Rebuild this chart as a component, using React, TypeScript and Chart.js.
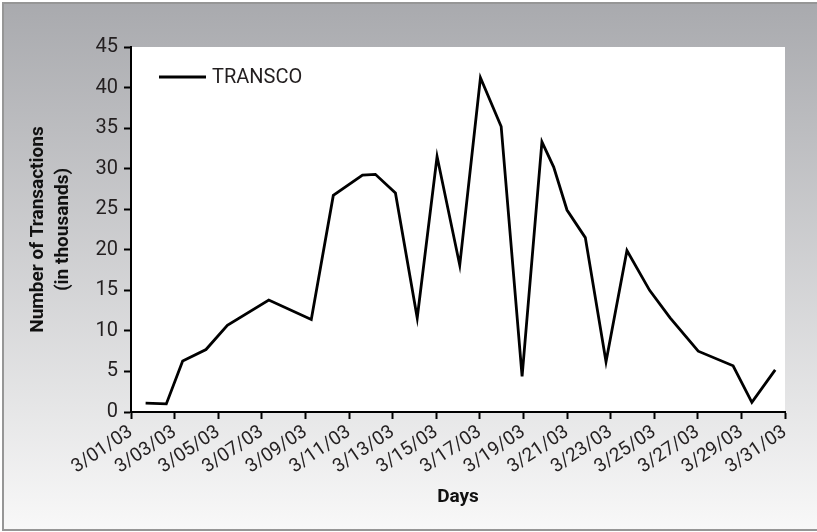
import React, { useEffect, useRef } from 'react';
import { Chart, registerables } from 'chart.js';

Chart.register(...registerables);

const seriesLabel = 'TRANSCO';
// day of March (position on the date axis) for each observation
const dayPositions = [1.67, 2.62, 3.37, 4.44, 5.42, 7.32, 9.27, 10.28, 11.62, 12.21, 13.13, 14.13, 15.04, 16.08, 17.03, 17.98, 18.94, 19.85, 20.39, 21.0, 21.84, 22.79, 23.75, 24.79, 25.73, 27.02, 28.62, 29.48, 30.55];
// number of transactions (thousands)
const transactions = [1.1, 1.0, 6.3, 7.7, 10.7, 13.8, 11.4, 26.7, 29.2, 29.3, 27.0, 11.6, 31.5, 18.1, 41.2, 35.2, 4.4, 33.3, 30.2, 24.9, 21.5, 6.2, 19.9, 15.0, 11.6, 7.5, 5.7, 1.2, 5.2];
const xTickLabels = ['3/01/03', '3/03/03', '3/05/03', '3/07/03', '3/09/03', '3/11/03', '3/13/03', '3/15/03', '3/17/03', '3/19/03', '3/21/03', '3/23/03', '3/25/03', '3/27/03', '3/29/03', '3/31/03'];
const xTitle = 'Days';
const yTitle = ['Number of Transactions', '(in thousands)'];

Chart.defaults.font.family = 'Roboto, "Liberation Sans", sans-serif';

export default function App() {
  const ref = useRef<HTMLCanvasElement>(null);

  useEffect(() => {
    if (!ref.current) return;
    const plotBg = {
      id: 'plotBg',
      beforeDraw(chart: any) {
        const { ctx, chartArea: a } = chart;
        ctx.save();
        ctx.fillStyle = '#ffffff';
        ctx.fillRect(a.left, a.top, a.right - a.left, a.bottom - a.top);
        ctx.restore();
      },
    };
    const insideLegend = {
      id: 'insideLegend',
      afterDatasetsDraw(chart: any) {
        const { ctx, chartArea: a } = chart;
        const ds = chart.data.datasets[0];
        const y = a.top + 30;
        ctx.save();
        ctx.strokeStyle = ds.borderColor;
        ctx.lineWidth = ds.borderWidth;
        ctx.beginPath();
        ctx.moveTo(a.left + 28, y);
        ctx.lineTo(a.left + 75, y);
        ctx.stroke();
        ctx.fillStyle = '#231f20';
        ctx.font = '20px Roboto, "Liberation Sans", sans-serif';
        ctx.textBaseline = 'middle';
        ctx.textAlign = 'left';
        ctx.fillText(ds.label, a.left + 81, y + 1);
        ctx.restore();
      },
    };

    const chart = new Chart(ref.current, {
      type: 'line',
      data: {
        datasets: [
          {
            label: seriesLabel,
            data: dayPositions.map((d, i) => ({ x: d, y: transactions[i] })),
            borderColor: '#000000',
            borderWidth: 2.8,
            pointRadius: 0,
            tension: 0,
            fill: false,
          },
        ],
      },
      options: {
        responsive: false,
        animation: false,
        devicePixelRatio: 1,
        layout: { padding: { left: 0, right: 32, top: 47, bottom: 0 } },
        plugins: { legend: { display: false }, tooltip: { enabled: false } },
        scales: {
          x: {
            type: 'linear',
            min: 1,
            max: 31,
            afterFit: (s: any) => { s.height = 120; },
            grid: { drawOnChartArea: false, tickLength: 7, tickWidth: 2, tickColor: '#000' },
            border: { color: '#000', width: 2 },
            ticks: {
              stepSize: 2,
              autoSkip: false,
              minRotation: 34,
              maxRotation: 34,
              padding: 2,
              color: '#231f20',
              font: { size: 19 },
              callback: (v: any) => xTickLabels[Math.round((Number(v) - 1) / 2)] ?? '',
            },
            title: {
              display: true,
              text: xTitle,
              color: '#111',
              font: { size: 19, weight: 'bold' },
              padding: { top: 0, bottom: 23 },
            },
          },
          y: {
            min: 0,
            max: 45,
            afterFit: (s: any) => { s.width = 131; },
            grid: { drawOnChartArea: false, tickLength: 7, tickWidth: 2, tickColor: '#000' },
            border: { color: '#000', width: 2 },
            ticks: { stepSize: 5, padding: 6, color: '#231f20', font: { size: 20 } },
            title: {
              display: true,
              text: yTitle,
              color: '#111',
              font: { size: 19, weight: 'bold', lineHeight: 1.3 },
              padding: { top: 26, bottom: 0 },
            },
          },
        },
      },
      plugins: [plotBg, insideLegend],
    });
    return () => chart.destroy();
  }, []);

  return (
    <div style={{ position: 'fixed', left: 0, top: 0, width: 817, height: 532, overflow: 'hidden', background: '#ffffff' }}>
      <div
        style={{
          position: 'absolute',
          left: 2,
          top: 2,
          width: 840,
          height: 529,
          boxSizing: 'border-box',
          border: '2px solid #969696',
          background: 'linear-gradient(#a9aaae, #f8f8f8)',
        }}
      />
      <canvas ref={ref} width={817} height={532} style={{ position: 'absolute', left: 0, top: 0, display: 'block' }} />
    </div>
  );
}
